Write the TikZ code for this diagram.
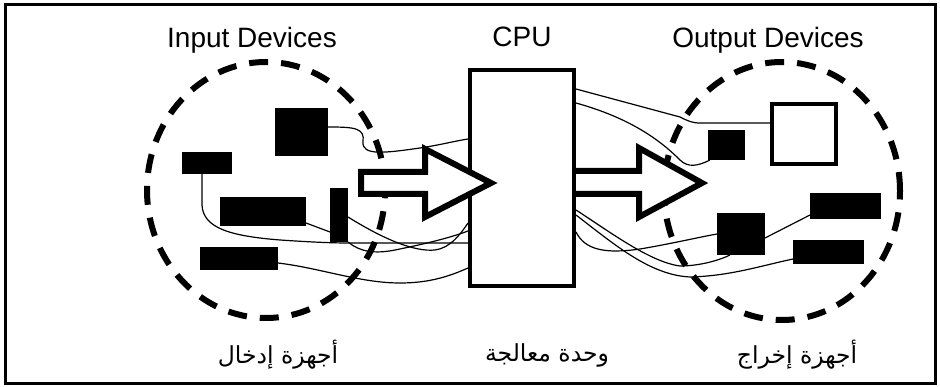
\documentclass[tikz,border=0pt]{standalone}
\usepackage{fontspec}
\setmainfont{Liberation Sans}
\newfontfamily\arabicfont[Script=Arabic]{DejaVu Sans}
\TeXXeTstate=1
\usepackage{tikz}
\usetikzlibrary{positioning}

\begin{document}
\begin{tikzpicture}[x=1pt, y=-1pt,
    device/.style={fill=black, inner sep=0pt, outer sep=0pt},
    screen/.style={draw, line width=4.5pt, fill=white, inner sep=0pt},
    cpubox/.style={draw, line width=4pt, fill=white, inner sep=0pt},
    ring/.style={line width=6pt, dash pattern=on 19pt off 13pt},
    wire/.style={line width=1.2pt},
    bigarrow/.style={draw, fill=white, line width=6pt, line join=miter},
    title/.style={font=\fontsize{28}{32}\selectfont, inner sep=0pt, anchor=base},
    arlabel/.style={font=\fontsize{23.5}{28}\arabicfont, inner sep=0pt, anchor=base}]

    \useasboundingbox (0,0) rectangle (940,387);
    \draw[line width=3pt] (5,5) rectangle (935,383);

    \draw[ring] (266,190) ellipse [x radius=119pt, y radius=128pt];
    \draw[ring] (782,191) ellipse [x radius=118pt, y radius=129pt];

    \node[cpubox, minimum width=104pt, minimum height=216pt] (cpu) at (522,178) {};

    \node[device, minimum width=53pt, minimum height=48pt] (in1) at (301.5,132) {};
    \node[device, minimum width=50pt, minimum height=22pt] (in2) at (207,163) {};
    \node[device, minimum width=86pt, minimum height=29pt] (in3) at (263,211.5) {};
    \node[device, minimum width=18pt, minimum height=54pt] (in4) at (339,215) {};
    \node[device, minimum width=78pt, minimum height=23pt] (in5) at (239,258.5) {};

    \node[device, minimum width=37pt, minimum height=30pt] (out1) at (726.5,145) {};
    \node[screen, minimum width=64pt, minimum height=60pt] (out2) at (804,134) {};
    \node[device, minimum width=71pt, minimum height=26pt] (out3) at (845.5,206) {};
    \node[device, minimum width=48pt, minimum height=42pt] (out4) at (741,234) {};
    \node[device, minimum width=71pt, minimum height=24pt] (out5) at (828.5,252) {};

    % wires into the cpu
    \draw[wire] ([yshift=5pt]in1.east) .. controls (355,127) and (365,128) .. (363,142)
        .. controls (362,156) and (385,153) .. (420,148)
        .. controls (440,145) and (455,141) .. ([yshift=-71pt]cpu.north west);
    \draw[wire] ([xshift=-5pt]in2.south) -- (202,205) .. controls (203,228) and (230,236) .. (280,240)
        .. controls (310,242) and (330,243) .. (350,243) -- ([yshift=-175pt]cpu.north west);
    \draw[wire] ([yshift=3pt]in3.south east) -- ([yshift=10pt]in4.south west);
    \draw[wire] ([yshift=-2pt]in4.east) .. controls (385,240) and (415,252) .. (435,250)
        .. controls (450,248) and (460,235) .. ([yshift=-155pt]cpu.north west);
    \draw[wire] (in4.south east) .. controls (360,252) and (375,254) .. (395,250)
        .. controls (420,245) and (450,238) .. ([yshift=-163pt]cpu.north west);
    \draw[wire] ([yshift=-4.5pt]in5.east) .. controls (320,268) and (360,283) .. (400,283)
        .. controls (430,283) and (450,276) .. ([yshift=-200pt]cpu.north west);

    % wires out of the cpu
    \draw[wire] ([yshift=-21pt]cpu.north east) -- (680,117) .. controls (688,121) and (692,123) .. (700,123)
        -- ([yshift=11pt]out2.west);
    \draw[wire] ([yshift=-35pt]cpu.north east) .. controls (630,118) and (660,140) .. (680,160)
        .. controls (688,168) and (698,166) .. ([xshift=2pt]out1.south west);
    \draw[wire] ([yshift=-142pt]cpu.north east) .. controls (610,232) and (650,262) .. (680,266)
        .. controls (700,266) and (720,260) .. ([xshift=-11pt]out4.south);
    \draw[wire] ([yshift=-147pt]cpu.north east) .. controls (615,245) and (650,275) .. (690,277)
        .. controls (730,276) and (760,266) .. ([yshift=-7pt]out5.west);
    \draw[wire] ([yshift=-164pt]cpu.north east) .. controls (585,250) and (605,254) .. (640,249)
        .. controls (670,244) and (700,237) .. (out4.west);
    \draw[wire] ([yshift=-4pt]out4.east) -- ([yshift=-9pt]out3.west);

    \draw[bigarrow] (361,172) -- (425,172) -- (425,149) -- (491,183) -- (425,217) -- (425,194) -- (361,194) -- cycle;
    \draw[bigarrow] (576,171) -- (639,171) -- (639,148) -- (702,183) -- (639,217) -- (639,194) -- (576,194);

    \node[title] (intitle) at (252,48) {Input Devices};
    \node[title, above=21pt of cpu.north] (cputitle) {CPU};
    \node[title] (outtitle) at (768,48) {Output Devices};

    \node[arlabel] (inarabic) at (278,363) {\beginR أجهزة إدخال\endR};
    \node[arlabel] (cpuarabic) at (547,362) {\beginR وحدة معالجة\endR};
    \node[arlabel] (outarabic) at (797,363) {\beginR أجهزة إخراج\endR};
\end{tikzpicture}
\end{document}
